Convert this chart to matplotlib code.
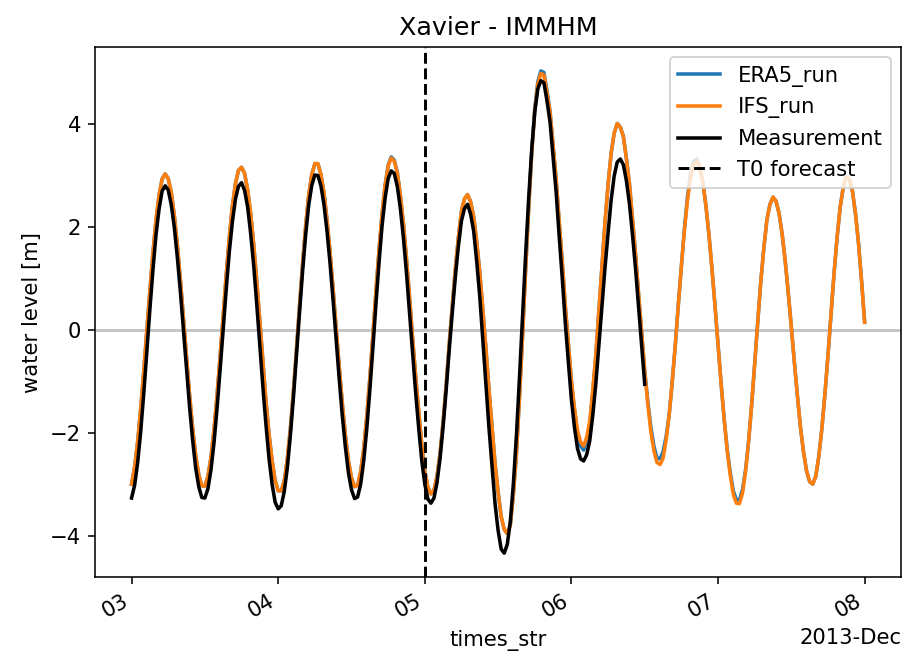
import pandas as pd
import matplotlib
matplotlib.use("Agg")
import matplotlib.pyplot as plt
import matplotlib.dates as mdates

start = "2013-12-03 00:00"
step = "30min"
t0_forecast = "2013-12-05 00:00"

era5_run = [
    -2.99, -2.66, -2.16, -1.52, -0.79, -0.01, 0.77, 1.50, 2.14, 2.62,
    2.93, 3.03, 2.94, 2.67, 2.22, 1.64, 0.96, 0.21, -0.55, -1.27,
    -1.91, -2.44, -2.81, -3.02, -3.03, -2.84, -2.47, -1.93, -1.26, -0.50,
    0.30, 1.08, 1.80, 2.40, 2.84, 3.10, 3.16, 3.04, 2.72, 2.26,
    1.65, 0.94, 0.17, -0.62, -1.38, -2.02, -2.53, -2.92, -3.12, -3.12,
    -2.93, -2.50, -1.91, -1.18, -0.37, 0.48, 1.29, 2.02, 2.62, 3.02,
    3.23, 3.23, 3.02, 2.66, 2.13, 1.50, 0.78, 0.03, -0.73, -1.43,
    -2.04, -2.54, -2.87, -3.04, -3.01, -2.75, -2.31, -1.68, -0.94, -0.10,
    0.74, 1.54, 2.25, 2.81, 3.20, 3.36, 3.30, 3.06, 2.62, 2.07,
    1.39, 0.64, -0.15, -0.89, -1.57, -2.22, -2.73, -3.05, -3.18, -3.11,
    -2.84, -2.39, -1.78, -1.06, -0.27, 0.47, 1.18, 1.80, 2.31, 2.55,
    2.63, 2.49, 2.20, 1.71, 1.12, 0.40, -0.35, -1.15, -1.88, -2.59,
    -3.14, -3.62, -3.87, -3.95, -3.78, -3.19, -2.40, -1.30, -0.12, 1.16,
    2.36, 3.44, 4.30, 4.82, 5.03, 5.00, 4.65, 4.25, 3.58, 2.93,
    2.10, 1.33, 0.47, -0.26, -0.98, -1.55, -2.02, -2.25, -2.33, -2.15,
    -1.84, -1.20, -0.48, 0.38, 1.22, 2.09, 2.82, 3.43, 3.82, 4.01,
    3.94, 3.76, 3.33, 2.84, 2.16, 1.47, 0.69, -0.05, -0.79, -1.38,
    -1.88, -2.25, -2.48, -2.50, -2.36, -2.07, -1.65, -1.01, -0.30, 0.49,
    1.24, 1.97, 2.58, 3.02, 3.27, 3.32, 3.15, 2.88, 2.43, 1.87,
    1.20, 0.48, -0.28, -1.03, -1.72, -2.31, -2.76, -3.12, -3.29, -3.30,
    -3.10, -2.72, -2.17, -1.46, -0.65, 0.15, 0.94, 1.59, 2.14, 2.44,
    2.58, 2.50, 2.26, 1.86, 1.34, 0.72, 0.06, -0.63, -1.28, -1.89,
    -2.37, -2.74, -2.94, -2.99, -2.84, -2.45, -1.91, -1.24, -0.49, 0.32,
    1.11, 1.81, 2.39, 2.77, 2.98, 2.93, 2.70, 2.26, 1.68, 0.95,
    0.15,
]

ifs_run = [
    -2.99, -2.66, -2.16, -1.52, -0.79, -0.01, 0.77, 1.50, 2.14, 2.62,
    2.93, 3.03, 2.94, 2.67, 2.22, 1.64, 0.96, 0.21, -0.55, -1.27,
    -1.91, -2.44, -2.81, -3.02, -3.03, -2.84, -2.47, -1.93, -1.26, -0.50,
    0.30, 1.08, 1.80, 2.40, 2.84, 3.10, 3.16, 3.04, 2.72, 2.26,
    1.65, 0.94, 0.17, -0.62, -1.38, -2.02, -2.53, -2.92, -3.12, -3.12,
    -2.93, -2.50, -1.91, -1.18, -0.37, 0.48, 1.29, 2.02, 2.62, 3.02,
    3.23, 3.23, 3.02, 2.66, 2.13, 1.50, 0.78, 0.03, -0.73, -1.43,
    -2.04, -2.54, -2.87, -3.04, -3.01, -2.75, -2.31, -1.68, -0.94, -0.10,
    0.74, 1.54, 2.25, 2.80, 3.18, 3.34, 3.28, 3.05, 2.62, 2.07,
    1.39, 0.64, -0.15, -0.89, -1.57, -2.22, -2.73, -3.05, -3.18, -3.11,
    -2.84, -2.39, -1.78, -1.06, -0.27, 0.47, 1.18, 1.80, 2.31, 2.55,
    2.63, 2.49, 2.20, 1.71, 1.12, 0.40, -0.35, -1.15, -1.88, -2.59,
    -3.14, -3.62, -3.87, -3.95, -3.78, -3.19, -2.40, -1.30, -0.12, 1.16,
    2.36, 3.42, 4.26, 4.77, 4.98, 4.95, 4.61, 4.23, 3.58, 2.93,
    2.10, 1.33, 0.47, -0.26, -0.98, -1.51, -1.95, -2.17, -2.25, -2.08,
    -1.77, -1.16, -0.48, 0.38, 1.22, 2.09, 2.82, 3.43, 3.82, 4.01,
    3.94, 3.76, 3.33, 2.84, 2.16, 1.47, 0.69, -0.05, -0.79, -1.43,
    -1.97, -2.34, -2.57, -2.61, -2.49, -2.14, -1.65, -1.01, -0.30, 0.49,
    1.24, 1.94, 2.52, 2.96, 3.22, 3.29, 3.15, 2.88, 2.43, 1.87,
    1.20, 0.48, -0.28, -1.03, -1.72, -2.34, -2.82, -3.19, -3.36, -3.37,
    -3.17, -2.76, -2.17, -1.46, -0.65, 0.15, 0.94, 1.59, 2.14, 2.44,
    2.58, 2.50, 2.26, 1.86, 1.34, 0.72, 0.06, -0.63, -1.28, -1.89,
    -2.37, -2.74, -2.94, -2.99, -2.84, -2.45, -1.91, -1.24, -0.49, 0.32,
    1.11, 1.81, 2.39, 2.77, 2.98, 2.93, 2.70, 2.26, 1.68, 0.95,
    0.15,
]

measurement = [
    -3.26, -3.01, -2.57, -1.96, -1.22, -0.42, 0.41, 1.17, 1.85, 2.35,
    2.70, 2.80, 2.72, 2.43, 1.99, 1.40, 0.73, -0.02, -0.77, -1.50,
    -2.14, -2.68, -3.04, -3.25, -3.26, -3.08, -2.71, -2.18, -1.51, -0.76,
    0.03, 0.80, 1.52, 2.10, 2.54, 2.79, 2.86, 2.71, 2.39, 1.87,
    1.24, 0.49, -0.30, -1.11, -1.84, -2.49, -2.99, -3.34, -3.47, -3.41,
    -3.13, -2.67, -2.04, -1.30, -0.47, 0.35, 1.15, 1.85, 2.43, 2.81,
    3.01, 3.00, 2.80, 2.43, 1.91, 1.28, 0.56, -0.21, -0.96, -1.67,
    -2.27, -2.77, -3.10, -3.27, -3.24, -2.99, -2.54, -1.92, -1.17, -0.35,
    0.50, 1.30, 2.02, 2.56, 2.94, 3.09, 3.04, 2.79, 2.36, 1.79,
    1.11, 0.34, -0.45, -1.21, -1.90, -2.53, -2.99, -3.28, -3.36, -3.26,
    -2.96, -2.49, -1.87, -1.16, -0.38, 0.34, 1.03, 1.63, 2.12, 2.36,
    2.44, 2.25, 1.92, 1.33, 0.65, -0.20, -1.03, -1.89, -2.63, -3.37,
    -3.89, -4.25, -4.33, -4.16, -3.72, -2.98, -2.04, -0.92, 0.26, 1.45,
    2.55, 3.50, 4.23, 4.68, 4.84, 4.80, 4.45, 4.04, 3.37, 2.68,
    1.82, 1.01, 0.14, -0.62, -1.35, -1.89, -2.30, -2.50, -2.54, -2.42,
    -2.15, -1.65, -1.04, -0.30, 0.46, 1.21, 1.88, 2.52, 2.99, 3.26,
    3.32, 3.21, 2.90, 2.45, 1.85, 1.19, 0.45, -0.31, -1.05,
]

times_model = pd.date_range(start, periods=len(ifs_run), freq=step)
times_meas = pd.date_range(start, periods=len(measurement), freq=step)

plt.rcParams["font.size"] = 10.8

fig = plt.figure(figsize=(904 / 141, 659 / 141), dpi=141)
ax = fig.add_subplot(111)

ax.axhline(0, color="grey", alpha=0.45, lw=1.5)
ax.plot(times_model, era5_run, color="tab:blue", lw=1.8, label="ERA5_run")
ax.plot(times_model, ifs_run, color="tab:orange", lw=1.8, label="IFS_run")
ax.plot(times_meas, measurement, color="k", lw=1.8, label="Measurement")
ax.axvline(pd.Timestamp(t0_forecast), color="k", linestyle="--", lw=1.5,
           label="T0 forecast")

locator = mdates.DayLocator()
ax.xaxis.set_major_locator(locator)
ax.xaxis.set_major_formatter(mdates.ConciseDateFormatter(locator))

ax.set_title("Xavier - IMMHM")
ax.set_ylabel("water level [m]")
ax.set_xlabel("times_str")
ax.legend(loc="upper right")

fig.autofmt_xdate()
fig.subplots_adjust(left=0.105, right=0.997, top=0.929, bottom=0.124)

fig.savefig("out.png", dpi=141)
